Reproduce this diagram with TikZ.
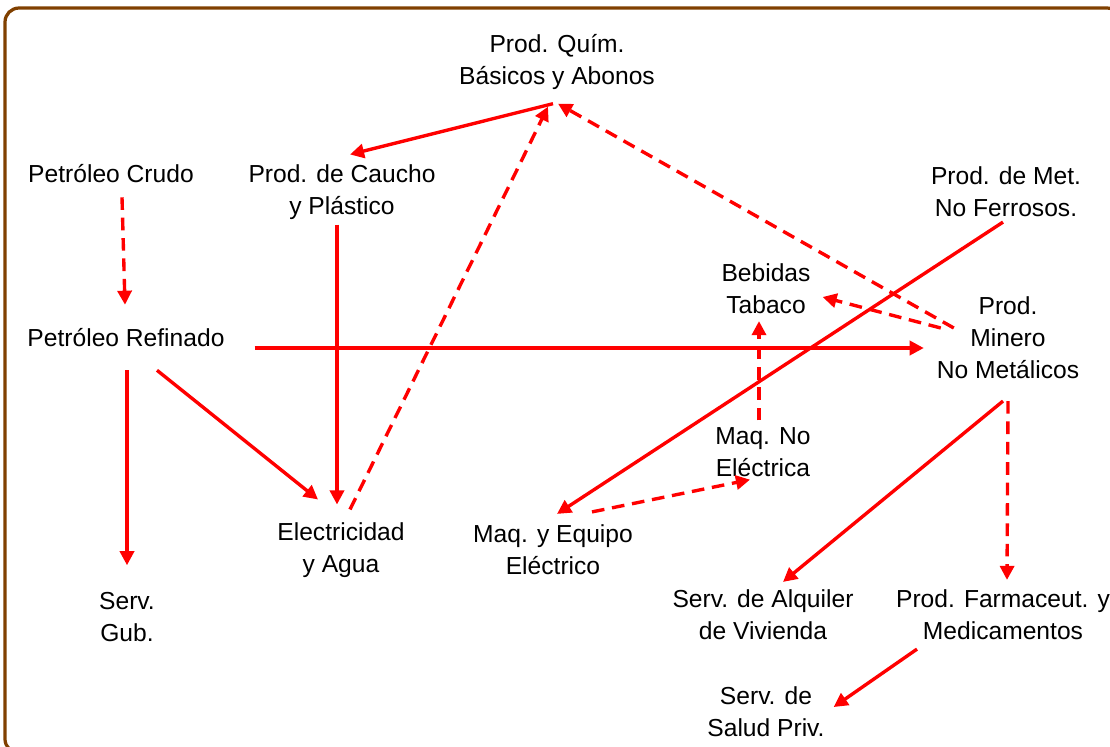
\documentclass[tikz,border=0pt]{standalone}
\usepackage{fontspec}
\setmainfont{Liberation Sans}
\usepackage{tikz}
\usetikzlibrary{arrows.meta}
\usetikzlibrary{positioning}
\definecolor{marco}{RGB}{128,64,0}
\newcommand\sectorfont{\fontsize{17.5}{22.7}\selectfont}
\tikzset{
  >={Triangle[length=10pt,width=10pt]},
  node distance = 2cm,
  sector/.style = {align=center, font=\sectorfont, inner sep=2pt},
  flujo/.style = {->, red, line width=2.4pt},
  debil/.style = {flujo, dash pattern=on 9pt off 5.5pt},
}

\begin{document}
\begin{tikzpicture}[x=0.025cm, y=-0.025cm]
    \clip (0,0) rectangle (1110,746);
    \draw [marco, line width=2.3pt, rounded corners=0.35cm] (5,8) rectangle (1121,753);
    \node [sector] (quim) at (557,62) {Prod. Quím.\\Básicos y Abonos};
    \node [sector] (crudo) at (111,174) {Petróleo Crudo};
    \node [sector] (caucho) at (342,192) {Prod. de Caucho\\y Plástico};
    \node [sector] (met) at (1006,192) {Prod. de Met.\\No Ferrosos.};
    \node [sector] (bebidas) at (766,289) {Bebidas\\Tabaco};
    \node [sector] (refinado) at (126,338) {Petróleo Refinado};
    \node [sector] (minero) at (1008,338) {Prod.\\Minero\\No Metálicos};
    \node [sector] (maqno) at (763,452) {Maq. No\\Eléctrica};
    \node [sector] (elec) at (341,550) {Electricidad\\y Agua};
    \node [sector] (maqeq) at (553,550) {Maq. y Equipo\\Eléctrico};
    \node [sector] (gub) at (127,617) {Serv.\\Gub.};
    \node [sector] (alquiler) at (763,615) {Serv. de Alquiler\\de Vivienda};
    \node [sector] (farma) at (1003,615) {Prod. Farmaceut. y\\Medicamentos};
    \node [sector] (salud) at (766,712) {Serv. de\\Salud Priv.};
    % solid links
    \draw [flujo] ([shift={(-4,11)}]quim.south) -- ([shift={(8,-7)}]caucho.north);
    \draw [flujo] ([shift={(-5,2)}]caucho.south) -- ([shift={(-4,-15)}]elec.north);
    \draw [flujo] ([shift={(-3,2)}]met.south) -- ([shift={(4,-8)}]maqeq.north);
    \draw [flujo] ([shift={(27,10)}]refinado.east) -- ([shift={(-10,10)}]minero.west);
    \draw [flujo] ([shift={(1,20)}]refinado.south) -- ([shift={(0,-24)}]gub.north);
    \draw [flujo] ([shift={(31,20)}]refinado.south) -- ([shift={(-23,-20)}]elec.north);
    \draw [flujo] ([shift={(-5,19)}]minero.south) -- ([shift={(20,-5)}]alquiler.north);
    \draw [flujo] ([shift={(24,6)}]farma.south west) -- ([shift={(6,-5)}]salud.east);
    % dashed links
    \draw [debil] ([shift={(11,11)}]crudo.south) -- ([shift={(-1,-21)}]refinado.north);
    \draw [debil] ([shift={(9,-10)}]elec.north) -- ([shift={(-9,14)}]quim.south);
    \draw [debil] ([shift={(20,-10)}]minero.west) -- ([shift={(1,11)}]quim.south);
    \draw [debil] ([shift={(7,-10)}]minero.west) -- ([shift={(9,8)}]bebidas.east);
    \draw [debil] ([shift={(-4,-4)}]maqno.north) -- ([shift={(-7,4)}]bebidas.south);
    \draw [debil] ([shift={(39,-10)}]maqeq.north) -- ([shift={(-13,0)}]maqno.south);
    \draw [debil] ([shift={(0,19)}]minero.south) -- ([shift={(4,-7)}]farma.north);
\end{tikzpicture}
\end{document}
